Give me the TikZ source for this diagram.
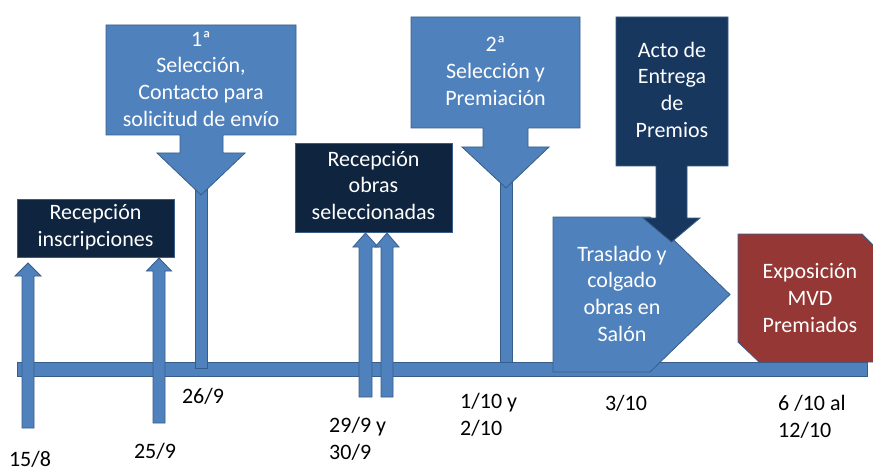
\documentclass[tikz,border=0pt]{standalone}
\usepackage{fontspec}
\setmainfont{Carlito}
\usetikzlibrary{calc}
\definecolor{mblue}{HTML}{4F81BD}
\definecolor{bdr}{HTML}{385D8A}
\definecolor{navyA}{HTML}{0F243E}
\definecolor{navyB}{HTML}{17375E}
\definecolor{expred}{HTML}{953735}
% x center, y bottom, y tip, half shaft, half head, head length
\newcommand\blkup[6]{%
  \filldraw[blueshp] ({#1-#4},#2) -- ({#1-#4},{#3+#6}) -- ({#1-#5},{#3+#6}) -- (#1,#3)
    -- ({#1+#5},{#3+#6}) -- ({#1+#4},{#3+#6}) -- ({#1+#4},#2) -- cycle;}
\begin{document}
\begin{tikzpicture}[x=1pt,y=-1pt,
  shp/.style={draw=bdr, line width=0.8pt, line join=miter},
  blueshp/.style={shp, fill=mblue},
  navybox/.style={shp, fill=navyA, text=white, align=center, inner sep=0pt,
    font=\fontsize{22}{26.8}\selectfont},
  intxt/.style={text=white, align=center, inner sep=0pt, font=\fontsize{22}{26.8}\selectfont},
  datetxt/.style={text=black, align=left, inner sep=0pt, font=\fontsize{22}{26.8}\selectfont}]
\clip (0,0) rectangle (873,468);
\fill[white] (0,0) rectangle (873,468);
% timeline bar
\filldraw[blueshp] (17,362) rectangle (867,376);
% up arrows
\blkup{28}{428}{263}{6}{13}{13}
\blkup{159}{423}{258}{6}{12.5}{13}
\blkup{365.5}{397}{233}{6.5}{12.5}{14}
\blkup{387}{397}{233}{6}{12}{14}
% shafts of callouts
\filldraw[blueshp] (195,185) rectangle (207,368);
\filldraw[blueshp] (500,180) rectangle (512,362);
% boxes
\node[navybox, minimum width=157pt, minimum height=58pt] (insc) at (95.5,228)
  {\strut Recepción\\inscripciones\strut};
\node[navybox, minimum width=157pt, minimum height=89pt] (obras) at (373.5,187.5)
  {\strut Recepción\\obras\\seleccionadas\strut};
% callout 1
\filldraw[blueshp] (106,25) -- (296,25) -- (296,135) -- (223,135) -- (223,153) -- (245,153)
  -- (201,195) -- (157,153) -- (180,153) -- (180,135) -- (106,135) -- cycle;
\node[intxt] (sel1) at (201,81) {\strut 1ª\\Selección,\\Contacto para\\solicitud de envío\strut};
% callout 2
\filldraw[blueshp] (411,17) -- (580,17) -- (580,128) -- (528,128) -- (528,147) -- (549,147)
  -- (506,188) -- (462,147) -- (483,147) -- (483,128) -- (411,128) -- cycle;
\node[intxt] (sel2) at (495.5,73) {\strut 2ª\\Selección y\\Premiación\strut};
% traslado pentagon
\filldraw[blueshp] (553,217) -- (650,217) -- (730,294.5) -- (650,372) -- (553,372) -- cycle;
\node[intxt] (tras) at (622,296) {\strut Traslado y\\colgado\\obras en\\Salón\strut};
% acto callout
\filldraw[shp, fill=navyB] (616,17) -- (728,17) -- (728,166) -- (687,166) -- (687,218) -- (700,218)
  -- (671.5,242) -- (643,218) -- (656,218) -- (656,166) -- (616,166) -- cycle;
\node[intxt] (acto) at (672,92) {\strut Acto de\\Entrega\\de\\Premios\strut};
% exposicion
\filldraw[shp, fill=expred] (738,234) -- (862,234) -- (882,254) -- (882,362) -- (759,362)
  -- (738,342) -- cycle;
\node[intxt] (expo) at (810,300) {\strut Exposición\\MVD\\Premiados\strut};
% dates
\node[datetxt] (d1) at (30,461) {\strut 15/8\strut};
\node[datetxt] (d2) at (155,453) {\strut 25/9\strut};
\node[datetxt] (d3) at (203,398) {\strut 26/9\strut};
\node[datetxt, anchor=west] (d4) at (329,441) {\strut 29/9 y\\30/9\strut};
\node[datetxt, anchor=west] (d5) at (460,417) {\strut 1/10 y\\2/10\strut};
\node[datetxt] (d6) at (626,405) {\strut 3/10\strut};
\node[datetxt, anchor=west] (d7) at (778,419) {\strut 6 /10 al\\12/10\strut};
\end{tikzpicture}
\end{document}
